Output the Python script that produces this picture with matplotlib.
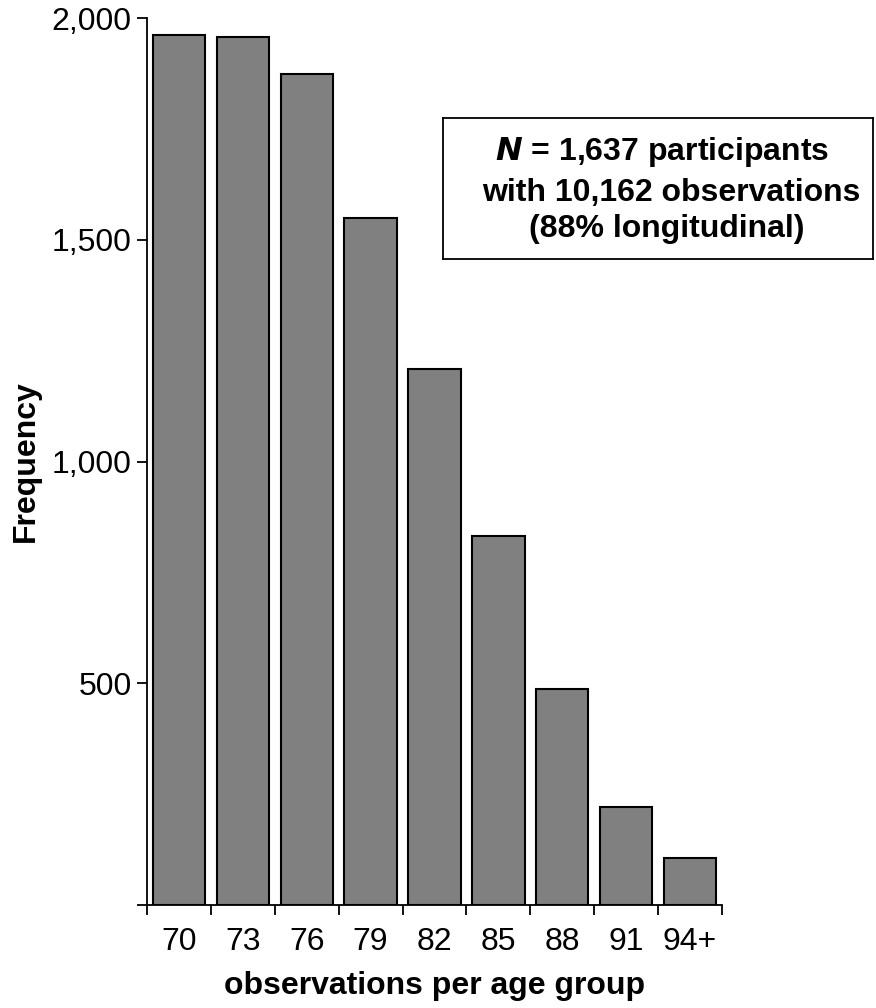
import matplotlib
matplotlib.use("Agg")
import matplotlib.pyplot as plt
import numpy as np

categories = ["70", "73", "76", "79", "82", "85", "88", "91", "94+"]
frequency = [1962, 1957, 1874, 1549, 1209, 832, 487, 221, 106]
y_ticks = [0, 500, 1000, 1500, 2000]
y_tick_labels = ["", "500", "1,000", "1,500", "2,000"]

plt.rcParams['font.family'] = ['Liberation Sans', 'DejaVu Sans']

fig = plt.figure(figsize=(8.76, 10.08), dpi=100)
ax = fig.add_axes([147/876, 103/1008, (722-147)/876, (905-18)/1008])

x = np.arange(len(categories))
ax.bar(x, frequency, width=0.82, color='#808080', edgecolor='black', linewidth=1.5, zorder=3)

ax.set_xlim(-0.5, len(categories) - 0.5)
ax.set_ylim(0, 2000)

ax.spines['top'].set_visible(False)
ax.spines['right'].set_visible(False)
for s in ['left', 'bottom']:
    ax.spines[s].set_linewidth(1.3)

ax.set_yticks(y_ticks)
ax.set_yticklabels(y_tick_labels, fontsize=23)
ax.tick_params(axis='y', direction='out', length=7, width=1.3, pad=4)

ax.set_xticks(x)
ax.set_xticklabels(categories, fontsize=23)
ax.tick_params(axis='x', which='major', length=0, pad=16)
ax.set_xticks(np.arange(-0.5, len(categories), 1.0), minor=True)
ax.tick_params(axis='x', which='minor', direction='out', length=7, width=1.3)

ax.set_ylabel("Frequency", fontsize=23, fontweight='bold', labelpad=8)
ax.set_xlabel("observations per age group", fontsize=23, fontweight='bold', labelpad=10)

box_ax = fig.add_axes([443/876, (1008-259)/1008, (873-443)/876, (259-118)/1008])
box_ax.set_xticks([])
box_ax.set_yticks([])
for s in box_ax.spines.values():
    s.set_linewidth(1.3)
box_ax.set_xlim(0, 1)
box_ax.set_ylim(0, 1)
box_ax.text(0.51, 0.76, r"$\bfit{N}$" + " = 1,637 participants", ha='center', va='center',
            fontsize=23, fontweight='bold', transform=box_ax.transAxes)
box_ax.text(0.53, 0.465, "with 10,162 observations", ha='center', va='center',
            fontsize=23, fontweight='bold', transform=box_ax.transAxes)
box_ax.text(0.52, 0.21, "(88% longitudinal)", ha='center', va='center',
            fontsize=23, fontweight='bold', transform=box_ax.transAxes)

fig.savefig("out.png", dpi=100)
